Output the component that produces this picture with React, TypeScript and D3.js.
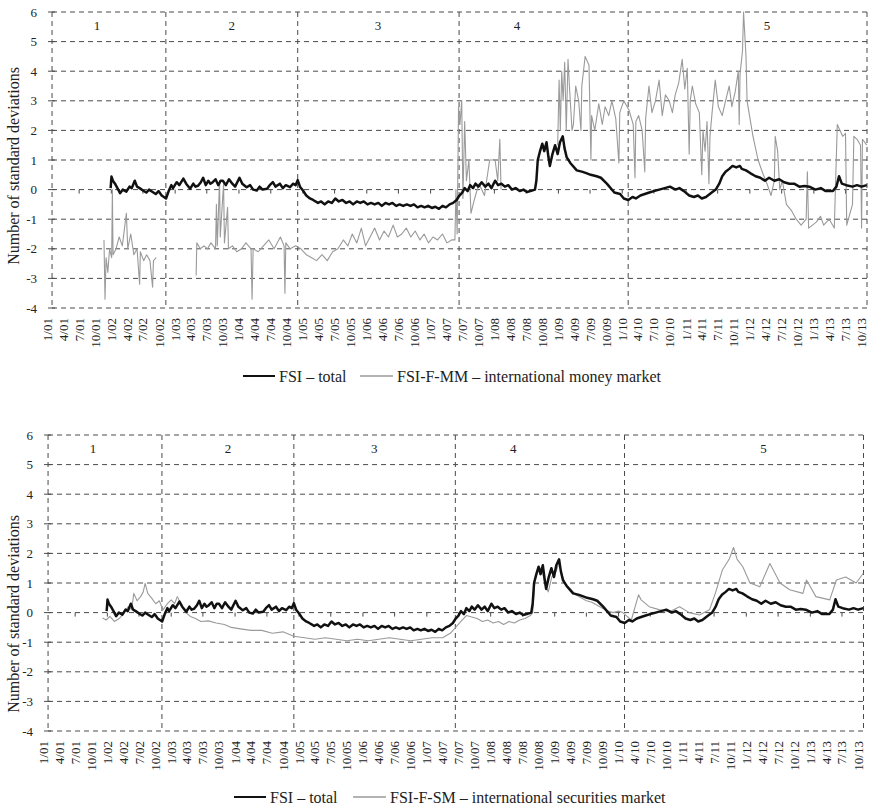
import React from "react";
import * as d3 from "d3";

type Pt = [string, number | null];

const FSI_TOTAL: Pt[] = [
  ["2001-12-28", 0.05], ["2002-01-02", 0.44], ["2002-01-10", 0.3], ["2002-01-22", 0.2], ["2002-02-05", 0.05],
  ["2002-02-20", -0.12], ["2002-03-08", 0.0], ["2002-03-28", -0.07], ["2002-04-15", 0.1], ["2002-04-28", 0.05],
  ["2002-05-15", 0.3], ["2002-05-28", 0.1], ["2002-06-12", 0.05], ["2002-07-01", -0.03], ["2002-07-20", -0.1],
  ["2002-08-05", 0.0], ["2002-08-25", -0.08], ["2002-09-12", -0.15], ["2002-09-28", -0.05], ["2002-10-16", -0.2],
  ["2002-11-10", -0.3], ["2002-11-25", -0.05], ["2002-12-10", 0.15], ["2002-12-20", 0.05], ["2003-01-10", 0.25],
  ["2003-01-25", 0.15], ["2003-02-17", 0.37], ["2003-03-05", 0.2], ["2003-03-28", 0.03], ["2003-04-15", 0.2],
  ["2003-04-28", 0.1], ["2003-05-12", 0.13], ["2003-05-28", 0.25], ["2003-06-10", 0.4], ["2003-06-25", 0.15],
  ["2003-07-10", 0.3], ["2003-07-22", 0.2], ["2003-08-04", 0.25], ["2003-08-20", 0.35], ["2003-09-05", 0.15],
  ["2003-09-18", 0.3], ["2003-10-01", 0.3], ["2003-10-18", 0.15], ["2003-11-05", 0.35], ["2003-11-24", 0.2],
  ["2003-12-10", 0.1], ["2004-01-04", 0.4], ["2004-01-20", 0.2], ["2004-02-14", 0.08], ["2004-03-05", 0.15],
  ["2004-03-22", 0.0], ["2004-04-12", -0.03], ["2004-04-28", 0.1], ["2004-05-15", 0.0], ["2004-06-10", 0.03],
  ["2004-06-25", 0.15], ["2004-07-13", 0.25], ["2004-07-28", 0.1], ["2004-08-22", 0.2], ["2004-09-08", 0.05],
  ["2004-09-25", 0.15], ["2004-10-19", 0.08], ["2004-11-05", 0.2], ["2004-11-20", 0.15], ["2004-12-02", 0.32],
  ["2004-12-15", 0.1], ["2005-01-01", -0.03], ["2005-01-20", -0.2], ["2005-02-10", -0.3], ["2005-02-28", -0.35],
  ["2005-03-28", -0.45], ["2005-04-15", -0.4], ["2005-05-05", -0.5], ["2005-05-25", -0.4], ["2005-06-15", -0.45],
  ["2005-07-05", -0.3], ["2005-07-25", -0.4], ["2005-08-15", -0.35], ["2005-09-05", -0.45], ["2005-09-25", -0.4],
  ["2005-10-15", -0.5], ["2005-11-05", -0.4], ["2005-11-25", -0.45], ["2005-12-15", -0.4], ["2006-01-05", -0.5],
  ["2006-01-25", -0.45], ["2006-02-15", -0.5], ["2006-03-08", -0.45], ["2006-03-28", -0.55], ["2006-04-18", -0.45],
  ["2006-05-08", -0.5], ["2006-05-28", -0.45], ["2006-06-18", -0.55], ["2006-07-08", -0.5], ["2006-07-28", -0.55],
  ["2006-08-18", -0.5], ["2006-09-08", -0.55], ["2006-09-28", -0.5], ["2006-10-18", -0.6], ["2006-11-08", -0.55],
  ["2006-11-28", -0.6], ["2006-12-18", -0.55], ["2007-01-08", -0.62], ["2007-01-28", -0.58], ["2007-02-18", -0.65],
  ["2007-03-10", -0.55], ["2007-03-30", -0.6], ["2007-04-20", -0.5], ["2007-05-10", -0.45], ["2007-05-30", -0.35],
  ["2007-06-15", -0.2], ["2007-07-01", -0.1], ["2007-07-15", 0.05], ["2007-08-01", -0.05], ["2007-08-15", 0.15],
  ["2007-09-01", 0.05], ["2007-09-15", 0.2], ["2007-10-01", 0.1], ["2007-10-20", 0.25], ["2007-11-10", 0.1],
  ["2007-11-28", 0.2], ["2007-12-15", 0.05], ["2008-01-05", 0.3], ["2008-01-22", 0.15], ["2008-02-10", 0.2],
  ["2008-03-01", 0.1], ["2008-03-20", 0.15], ["2008-04-10", 0.0], ["2008-05-01", 0.05], ["2008-05-25", -0.05],
  ["2008-06-15", 0.0], ["2008-07-05", -0.08], ["2008-07-25", -0.05], ["2008-08-20", 0.0], ["2008-08-28", 0.3],
  ["2008-09-05", 1.0], ["2008-09-18", 1.3], ["2008-10-01", 1.55], ["2008-10-12", 1.3], ["2008-10-25", 1.6],
  ["2008-11-05", 1.1], ["2008-11-13", 0.8], ["2008-11-28", 1.2], ["2008-12-13", 1.5], ["2008-12-28", 1.2],
  ["2009-01-10", 1.6], ["2009-01-26", 1.8], ["2009-02-05", 1.4], ["2009-02-17", 1.1], ["2009-03-10", 0.9],
  ["2009-04-16", 0.65], ["2009-05-20", 0.6], ["2009-06-13", 0.55], ["2009-07-05", 0.5], ["2009-08-08", 0.45],
  ["2009-09-01", 0.4], ["2009-10-05", 0.2], ["2009-11-17", -0.1], ["2009-12-20", -0.15], ["2010-01-10", -0.3],
  ["2010-02-05", -0.35], ["2010-03-01", -0.25], ["2010-03-20", -0.3], ["2010-04-15", -0.2], ["2010-05-10", -0.15],
  ["2010-06-05", -0.1], ["2010-07-01", -0.05], ["2010-08-01", 0.0], ["2010-09-01", 0.05], ["2010-10-01", 0.1],
  ["2010-11-01", 0.0], ["2010-11-24", 0.05], ["2010-12-20", -0.05], ["2011-01-19", -0.2], ["2011-02-15", -0.25],
  ["2011-03-10", -0.2], ["2011-04-01", -0.3], ["2011-04-25", -0.25], ["2011-05-28", -0.1], ["2011-06-20", 0.0],
  ["2011-07-10", 0.2], ["2011-07-27", 0.45], ["2011-08-15", 0.6], ["2011-09-05", 0.7], ["2011-09-24", 0.8],
  ["2011-10-15", 0.75], ["2011-11-05", 0.8], ["2011-11-16", 0.7], ["2011-12-10", 0.65], ["2012-01-05", 0.55],
  ["2012-02-03", 0.45], ["2012-03-01", 0.4], ["2012-03-27", 0.3], ["2012-04-20", 0.4], ["2012-05-20", 0.3],
  ["2012-06-17", 0.35], ["2012-07-15", 0.25], ["2012-08-14", 0.2], ["2012-09-10", 0.2], ["2012-10-10", 0.1],
  ["2012-11-08", 0.12], ["2012-12-06", 0.1], ["2013-01-10", 0.0], ["2013-02-10", 0.05], ["2013-03-10", -0.05],
  ["2013-04-20", -0.05], ["2013-05-10", 0.1], ["2013-05-25", 0.45], ["2013-06-10", 0.2], ["2013-07-05", 0.15],
  ["2013-08-10", 0.1], ["2013-09-05", 0.15], ["2013-10-01", 0.1], ["2013-10-31", 0.15],
];

const FSI_F_MM: Pt[] = [
  ["2001-11-20", -1.7], ["2001-11-26", -3.7], ["2001-12-02", -2.3], ["2001-12-12", -2.8], ["2001-12-22", -2.0],
  ["2002-01-03", -2.3], ["2002-01-07", 0.0], ["2002-01-11", -2.2], ["2002-01-28", -2.0], ["2002-02-15", -1.6],
  ["2002-03-05", -1.9], ["2002-03-28", -0.8], ["2002-04-05", -2.0], ["2002-04-22", -1.5], ["2002-05-10", -2.2],
  ["2002-05-28", -2.0], ["2002-06-12", -3.2], ["2002-06-16", -2.1], ["2002-07-05", -2.4], ["2002-07-22", -2.2],
  ["2002-08-10", -2.4], ["2002-08-25", -3.3], ["2002-08-30", -2.4], ["2002-09-15", -2.3], ["2002-09-16", null],
  ["2003-04-25", null], ["2003-05-01", -2.9], ["2003-05-05", -1.8], ["2003-05-25", -2.0], ["2003-06-15", -1.9],
  ["2003-07-05", -2.0], ["2003-07-25", -1.8], ["2003-08-20", -2.0], ["2003-08-25", -0.5], ["2003-08-30", -1.9],
  ["2003-09-12", 0.3], ["2003-09-16", -1.6], ["2003-10-05", 0.2], ["2003-10-10", -1.8], ["2003-10-28", -0.6],
  ["2003-11-02", -2.0], ["2003-11-25", -1.9], ["2003-12-20", -2.1], ["2004-01-15", -2.0], ["2004-02-10", -1.8],
  ["2004-03-10", -2.0], ["2004-03-16", -3.7], ["2004-03-22", -2.0], ["2004-04-20", -2.1], ["2004-05-20", -1.9],
  ["2004-06-20", -1.7], ["2004-07-20", -2.0], ["2004-08-25", -1.6], ["2004-09-15", -1.9], ["2004-09-20", -3.5],
  ["2004-09-25", -1.8], ["2004-10-20", -2.0], ["2004-11-20", -1.9], ["2004-12-20", -2.0], ["2005-01-20", -2.2],
  ["2005-02-20", -2.3], ["2005-03-20", -2.4], ["2005-04-20", -2.2], ["2005-05-20", -2.4], ["2005-06-20", -2.1],
  ["2005-07-20", -2.0], ["2005-08-20", -1.7], ["2005-09-15", -1.9], ["2005-10-10", -1.5], ["2005-11-05", -1.8],
  ["2005-12-01", -1.3], ["2005-12-25", -1.9], ["2006-01-20", -1.6], ["2006-02-15", -1.3], ["2006-03-15", -1.7],
  ["2006-04-10", -1.4], ["2006-05-05", -1.6], ["2006-06-01", -1.2], ["2006-06-25", -1.6], ["2006-07-20", -1.5],
  ["2006-08-15", -1.3], ["2006-09-10", -1.6], ["2006-10-05", -1.4], ["2006-11-01", -1.7], ["2006-11-25", -1.5],
  ["2006-12-20", -1.8], ["2007-01-15", -1.6], ["2007-02-10", -1.7], ["2007-03-10", -1.5], ["2007-04-05", -1.8],
  ["2007-05-01", -1.7], ["2007-05-20", -1.7], ["2007-05-26", 0.0], ["2007-06-02", -1.5], ["2007-06-10", 2.8],
  ["2007-06-18", 2.2], ["2007-06-28", 3.0], ["2007-07-05", -0.3], ["2007-07-15", 2.3], ["2007-07-25", 0.3],
  ["2007-08-08", 1.0], ["2007-08-20", -0.8], ["2007-09-10", -0.3], ["2007-10-05", 0.2], ["2007-11-05", -0.2],
  ["2007-12-05", 1.0], ["2008-01-05", 1.0], ["2008-01-20", 0.3], ["2008-02-01", 1.7], ["2008-02-08", 0.0],
  ["2008-02-09", null], ["2008-12-20", null], ["2008-12-28", 1.5], ["2009-01-05", 3.7], ["2009-01-12", 2.0],
  ["2009-01-20", 4.0], ["2009-01-28", 3.0], ["2009-02-06", 4.3], ["2009-02-15", 2.0], ["2009-02-25", 4.4],
  ["2009-03-05", 3.5], ["2009-03-20", 2.0], ["2009-03-28", 2.2], ["2009-04-10", 3.5], ["2009-04-27", 3.0],
  ["2009-05-10", 2.0], ["2009-05-15", 3.5], ["2009-06-03", 4.5], ["2009-06-25", 4.2], ["2009-07-06", 1.0],
  ["2009-07-10", 2.5], ["2009-07-28", 2.0], ["2009-08-20", 2.9], ["2009-09-09", 2.2], ["2009-09-25", 2.8],
  ["2009-10-16", 2.5], ["2009-11-03", 3.0], ["2009-11-25", 2.4], ["2009-12-13", 0.9], ["2009-12-18", 2.6],
  ["2010-01-10", 3.0], ["2010-02-08", 2.7], ["2010-03-05", 2.2], ["2010-03-15", 0.4], ["2010-03-20", 2.3],
  ["2010-04-05", 2.5], ["2010-04-25", 2.0], ["2010-05-10", 0.6], ["2010-05-15", 2.4], ["2010-06-03", 3.5],
  ["2010-06-20", 2.6], ["2010-07-10", 3.0], ["2010-07-31", 3.7], ["2010-08-18", 2.5], ["2010-09-05", 3.2],
  ["2010-09-27", 3.0], ["2010-10-15", 2.6], ["2010-10-31", 3.2], ["2010-11-20", 3.6], ["2010-12-10", 4.4],
  ["2010-12-25", 3.4], ["2011-01-08", 4.1], ["2011-01-19", 1.2], ["2011-01-25", 3.0], ["2011-02-06", 3.5],
  ["2011-02-25", 2.9], ["2011-03-18", 2.6], ["2011-04-01", 0.5], ["2011-04-08", 2.0], ["2011-04-20", 1.3],
  ["2011-05-01", 2.3], ["2011-05-12", 0.2], ["2011-05-18", 1.8], ["2011-05-30", 2.6], ["2011-06-17", 3.7],
  ["2011-07-05", 2.8], ["2011-07-27", 2.5], ["2011-08-15", 3.0], ["2011-09-05", 3.5], ["2011-09-20", 2.8],
  ["2011-10-09", 3.3], ["2011-10-27", 4.0], ["2011-11-01", 2.2], ["2011-11-06", 3.9], ["2011-11-20", 4.7],
  ["2011-11-26", 6.0], ["2011-12-10", 4.5], ["2011-12-16", 3.0], ["2012-01-19", 1.8], ["2012-02-17", 1.0],
  ["2012-03-18", 0.5], ["2012-04-08", 0.2], ["2012-05-01", -0.2], ["2012-05-20", 0.3], ["2012-05-25", 1.8],
  ["2012-06-08", 1.3], ["2012-06-20", 0.0], ["2012-07-05", 0.3], ["2012-07-28", -0.5], ["2012-08-25", -0.7],
  ["2012-09-22", -1.0], ["2012-10-20", -1.2], ["2012-11-18", -1.0], ["2012-11-25", 0.6], ["2012-12-02", -1.3],
  ["2013-01-15", -1.1], ["2013-02-08", -0.9], ["2013-02-26", -1.2], ["2013-03-30", -1.0], ["2013-04-28", -1.3],
  ["2013-05-15", 2.2], ["2013-06-15", 1.8], ["2013-07-01", 1.9], ["2013-07-08", -1.2], ["2013-08-10", -0.5],
  ["2013-08-18", 1.8], ["2013-09-05", 1.7], ["2013-09-25", 1.5], ["2013-10-01", -1.3], ["2013-10-06", 1.7],
  ["2013-10-31", 1.5],
];

const FSI_F_SM: Pt[] = [
  ["2001-12-05", -0.18], ["2001-12-25", -0.25], ["2002-01-15", -0.13], ["2002-02-10", -0.3], ["2002-03-10", -0.2],
  ["2002-04-01", -0.05], ["2002-05-01", 0.2], ["2002-05-20", 0.1], ["2002-06-01", 0.65], ["2002-06-20", 0.4],
  ["2002-07-10", 0.54], ["2002-07-25", 0.7], ["2002-08-05", 0.99], ["2002-08-20", 0.65], ["2002-09-10", 0.5],
  ["2002-10-05", 0.3], ["2002-10-25", 0.4], ["2002-11-15", 0.09], ["2002-12-10", 0.3], ["2003-01-01", 0.43],
  ["2003-01-20", 0.3], ["2003-02-05", 0.54], ["2003-03-05", 0.2], ["2003-03-25", 0.0], ["2003-04-20", -0.13],
  ["2003-05-20", -0.2], ["2003-06-20", -0.3], ["2003-08-01", -0.28], ["2003-09-15", -0.35], ["2003-11-01", -0.4],
  ["2003-12-10", -0.5], ["2004-02-01", -0.55], ["2004-04-01", -0.6], ["2004-06-01", -0.6], ["2004-08-01", -0.7],
  ["2004-10-01", -0.65], ["2004-12-01", -0.8], ["2005-02-01", -0.85], ["2005-04-01", -0.9], ["2005-06-01", -0.85],
  ["2005-08-01", -0.9], ["2005-10-01", -0.95], ["2005-12-01", -0.9], ["2006-02-01", -0.95], ["2006-04-01", -0.9],
  ["2006-06-01", -0.85], ["2006-08-01", -0.9], ["2006-10-01", -0.95], ["2006-12-01", -0.9], ["2007-02-01", -0.85],
  ["2007-04-01", -0.85], ["2007-05-15", -0.7], ["2007-06-15", -0.5], ["2007-07-15", -0.3], ["2007-08-15", -0.1],
  ["2007-09-15", -0.15], ["2007-10-15", -0.2], ["2007-11-15", -0.3], ["2007-12-15", -0.25], ["2008-01-15", -0.35],
  ["2008-02-15", -0.3], ["2008-03-15", -0.4], ["2008-04-15", -0.3], ["2008-05-15", -0.35], ["2008-06-15", -0.25],
  ["2008-07-15", -0.2], ["2008-08-15", -0.1], ["2008-08-28", 0.0], ["2008-09-10", 1.1], ["2008-09-25", 1.4],
  ["2008-10-10", 1.5], ["2008-10-25", 1.3], ["2008-11-10", 0.9], ["2008-11-25", 0.7], ["2008-12-15", 1.2],
  ["2009-01-10", 1.4], ["2009-01-26", 1.7], ["2009-02-10", 1.3], ["2009-03-01", 1.0], ["2009-04-01", 0.8],
  ["2009-05-01", 0.6], ["2009-06-01", 0.5], ["2009-07-01", 0.4], ["2009-08-01", 0.35], ["2009-09-01", 0.25],
  ["2009-10-01", 0.15], ["2009-11-01", 0.05], ["2009-12-01", 0.0], ["2010-01-01", 0.05], ["2010-01-25", 0.0],
  ["2010-03-15", -0.25], ["2010-04-25", 0.6], ["2010-05-10", 0.43], ["2010-06-25", 0.2], ["2010-08-20", 0.1],
  ["2010-10-20", 0.03], ["2010-12-15", 0.2], ["2011-02-10", 0.0], ["2011-04-08", -0.08], ["2011-06-05", 0.1],
  ["2011-07-08", 0.65], ["2011-08-18", 1.45], ["2011-09-25", 1.8], ["2011-10-20", 2.2], ["2011-11-10", 1.8],
  ["2011-12-12", 1.55], ["2012-01-22", 1.0], ["2012-03-18", 0.87], ["2012-05-15", 1.66], ["2012-07-12", 1.0],
  ["2012-09-05", 0.77], ["2012-11-20", 0.65], ["2012-12-10", 1.1], ["2013-02-02", 0.54], ["2013-04-22", 0.43],
  ["2013-05-30", 1.1], ["2013-07-22", 1.2], ["2013-09-20", 1.0], ["2013-10-31", 1.33],
];

const PERIOD_BOUNDS = ["2002-11-09", "2004-12-02", "2007-06-13", "2010-02-04"];
const PERIOD_NAMES = ["1", "2", "3", "4", "5"];
const PERIOD_LABEL_AT = ["2001-10-11", "2003-11-21", "2006-03-06", "2008-05-09", "2012-04-08"];
const Y_TICKS = [-4, -3, -2, -1, 0, 1, 2, 3, 4, 5, 6];
const X_LABELS = [
  "1/01", "4/01", "7/01", "10/01", "1/02", "4/02", "7/02", "10/02", "1/03", "4/03", "7/03", "10/03",
  "1/04", "4/04", "7/04", "10/04", "1/05", "4/05", "7/05", "10/05", "1/06", "4/06", "7/06", "10/06",
  "1/07", "4/07", "7/07", "10/07", "1/08", "4/08", "7/08", "10/08", "1/09", "4/09", "7/09", "10/09",
  "1/10", "4/10", "7/10", "10/10", "1/11", "4/11", "7/11", "10/11", "1/12", "4/12", "7/12", "10/12",
  "1/13", "4/13", "7/13", "10/13",
];
const AXIS_ORIGIN = "2001-01-01";
const PLOT_START = "2001-01-27";
const AXIS_END = "2013-11-01";

const parse = d3.timeParse("%Y-%m-%d");
const parseLabel = (s: string) => {
  const [m, y] = s.split("/");
  return new Date(2000 + +y, +m - 1, 1);
};

const GRID = "#4a4a4a";
const TEXT = "#222";
const FONT = '"Times New Roman", "Liberation Serif", Times, "DejaVu Serif", serif';

function Panel(props: {
  yTop: number; yBottom: number; xStart: number; xEnd: number;
  titleY: number; legendY: number; legendX: number; legendGap: number;
  series: Pt[]; seriesName: string;
}) {
  const { yTop, yBottom, xStart, xEnd, titleY, legendY, legendX, legendGap, series, seriesName } = props;
  const x = d3.scaleTime().domain([parse(AXIS_ORIGIN)!, parse(AXIS_END)!]).range([xStart, xEnd]);
  const y = d3.scaleLinear().domain([-4, 6]).range([yBottom, yTop]);
  const left = x(parse(PLOT_START)!);
  const right = xEnd;
  const line = d3
    .line<Pt>()
    .defined((d) => d[1] !== null)
    .x((d) => x(parse(d[0])!))
    .y((d) => y(d[1] as number));
  const dash = "5,4";
  const ts = { fontFamily: FONT };
  return (
    <g>
      {Y_TICKS.map((v) => (
        <line key={"h" + v} x1={left} x2={right} y1={y(v)} y2={y(v)} stroke={GRID} strokeWidth={1} strokeDasharray={dash} />
      ))}
      {[left, ...PERIOD_BOUNDS.map((b) => x(parse(b)!)), right].map((vx, i) => (
        <line key={"v" + i} x1={vx} x2={vx} y1={y(6)} y2={y(-4)} stroke={GRID} strokeWidth={1} strokeDasharray={dash} />
      ))}
      {Y_TICKS.map((v) => (
        <g key={"yt" + v}>
          <line x1={left - 4} x2={left + 3} y1={y(v)} y2={y(v)} stroke={GRID} strokeWidth={1} />
          <text x={left - 15} y={y(v)} textAnchor="end" dominantBaseline="central" fontSize={13} fill={TEXT} style={ts}>
            {v}
          </text>
        </g>
      ))}
      {X_LABELS.filter((_, i) => i % 2 === 0).map((l) => {
        const tx = x(parseLabel(l));
        if (tx < left - 0.5) return null;
        return <line key={"xt" + l} x1={tx} x2={tx} y1={y(0)} y2={y(0) + 4} stroke={GRID} strokeWidth={1} />;
      })}
      {X_LABELS.map((l) => {
        const tx = x(parseLabel(l));
        return (
          <text key={"xl" + l} transform={`translate(${tx},${yBottom + 10}) rotate(-90)`} textAnchor="end"
            dominantBaseline="central" fontSize={13} fill={TEXT} style={ts}>
            {l}
          </text>
        );
      })}
      {PERIOD_NAMES.map((p, i) => (
        <text key={"p" + p} x={x(parse(PERIOD_LABEL_AT[i])!)} y={yTop + 18} textAnchor="middle" fontSize={13} fill={TEXT} style={ts}>
          {p}
        </text>
      ))}
      <text transform={`translate(13,${titleY}) rotate(-90)`} textAnchor="middle" dominantBaseline="central" fontSize={16} fill={TEXT} style={ts}>
        Number of standard deviations
      </text>
      <path d={line(series) || ""} fill="none" stroke="#9a9a9a" strokeWidth={1.1} strokeLinejoin="round" />
      <path d={line(FSI_TOTAL) || ""} fill="none" stroke="#111" strokeWidth={2.5} strokeLinejoin="round" />
      <line x1={legendX} x2={legendX + 32} y1={legendY} y2={legendY} stroke="#111" strokeWidth={2} />
      <text x={legendX + 36} y={legendY} dominantBaseline="central" fontSize={16} fill={TEXT} style={ts}>FSI – total</text>
      <line x1={legendX + legendGap} x2={legendX + legendGap + 33} y1={legendY} y2={legendY} stroke="#9a9a9a" strokeWidth={1.5} />
      <text x={legendX + legendGap + 37} y={legendY} dominantBaseline="central" fontSize={16} fill={TEXT} style={ts}>{seriesName}</text>
    </g>
  );
}

export default function App() {
  return (
    <svg width={869} height={811} style={{ position: "absolute", left: 0, top: 0, background: "#fff", fontFamily: FONT }}>
      <Panel yTop={12} yBottom={308} xStart={47.5} xEnd={867} titleY={166} legendY={376} legendX={243} legendGap={117}
        series={FSI_F_MM} seriesName="FSI-F-MM – international money market" />
      <Panel yTop={435} yBottom={731} xStart={43.5} xEnd={863.5} titleY={614} legendY={797} legendX={234} legendGap={119}
        series={FSI_F_SM} seriesName="FSI-F-SM – international securities market" />
    </svg>
  );
}
